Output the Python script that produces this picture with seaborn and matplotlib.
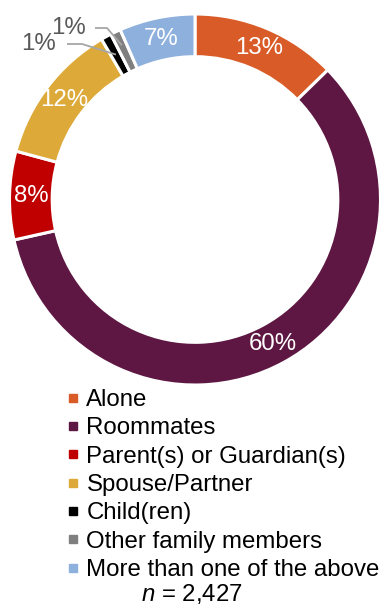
import matplotlib
matplotlib.use("Agg")
import matplotlib.pyplot as plt
from matplotlib.lines import Line2D
import numpy as np
import seaborn as sns

categories = ["Alone", "Roommates", "Parent(s) or Guardian(s)", "Spouse/Partner",
              "Child(ren)", "Other family members", "More than one of the above"]
values = [12.7, 58.8, 7.7, 12.4, 0.9, 0.9, 6.6]
pct_labels = ["13%", "60%", "8%", "12%", "1%", "1%", "7%"]
colors = ["#D95B27", "#5E1742", "#C00000", "#DDAA3A", "#000000", "#7F7F7F", "#8EB0DC"]
n_text = "$n$ = 2,427"

sns.set_theme(style="white")
plt.rcParams["font.family"] = ["Liberation Sans", "DejaVu Sans"]
plt.rcParams["mathtext.fontset"] = "custom"
plt.rcParams["mathtext.it"] = "Liberation Sans:italic"
plt.rcParams["mathtext.rm"] = "Liberation Sans"
plt.rcParams["text.color"] = "black"

W, H = 382, 607
fig = plt.figure(figsize=(W / 100, H / 100), dpi=100)
ax = fig.add_axes([0, 0, 1, 1])

R = 185.5  # px per data unit
cx, cy = 195, 199.5

wedges, _ = ax.pie(values, startangle=90, counterclock=False, colors=colors, radius=1,
                   wedgeprops=dict(width=0.23, edgecolor="white", linewidth=2.2))

ax.set_aspect("equal")
ax.set_xlim(-cx / R, (W - cx) / R)
ax.set_ylim(-(H - cy) / R, cy / R)
ax.axis("off")

fs = 17.3
small = {4, 5}
for i, w in enumerate(wedges):
    th = np.deg2rad((w.theta1 + w.theta2) / 2)
    if i in small:
        continue
    r = 0.885
    ax.text(r * np.cos(th), r * np.sin(th), pct_labels[i], color="white",
            ha="center", va="center", fontsize=fs)

# leader-lined labels for tiny slices (positions in px from top-left)
leader = {4: ((56, 44), (67, 44), (82, 44)), 5: ((86, 28), (95, 28), (107, 28))}
def px2d(p):
    return ((p[0] - cx) / R, (cy - p[1]) / R)
for i, (tpos, spos, kpos) in leader.items():
    th = np.deg2rad((wedges[i].theta1 + wedges[i].theta2) / 2)
    r = 0.89 if i == 4 else 0.92
    P = (r * np.cos(th), r * np.sin(th))
    S = px2d(spos)
    K = px2d(kpos)
    ax.plot([S[0], K[0], P[0]], [S[1], K[1], P[1]], color="#A6A6A6", lw=1.3,
            solid_capstyle="butt")
    T = px2d(tpos)
    ax.text(T[0], T[1], pct_labels[i], color="#595959", ha="right", va="center",
            fontsize=fs)

handles = [Line2D([], [], marker="s", linestyle="none", markersize=5.2,
                  markerfacecolor=c, markeredgecolor=c) for c in colors]
leg = fig.legend(handles, categories, loc="upper left", bbox_to_anchor=(66 / W, 1 - 389 / H),
                 frameon=False, fontsize=fs, handlelength=0.55, handletextpad=0.3,
                 labelspacing=0.265, borderpad=0, borderaxespad=0)
for t in leg.get_texts():
    t.set_color("black")

fig.text(192 / W, 1 - 594 / H, n_text, ha="center", va="center", fontsize=fs,
         color="black")

fig.savefig("out.png", dpi=100)
